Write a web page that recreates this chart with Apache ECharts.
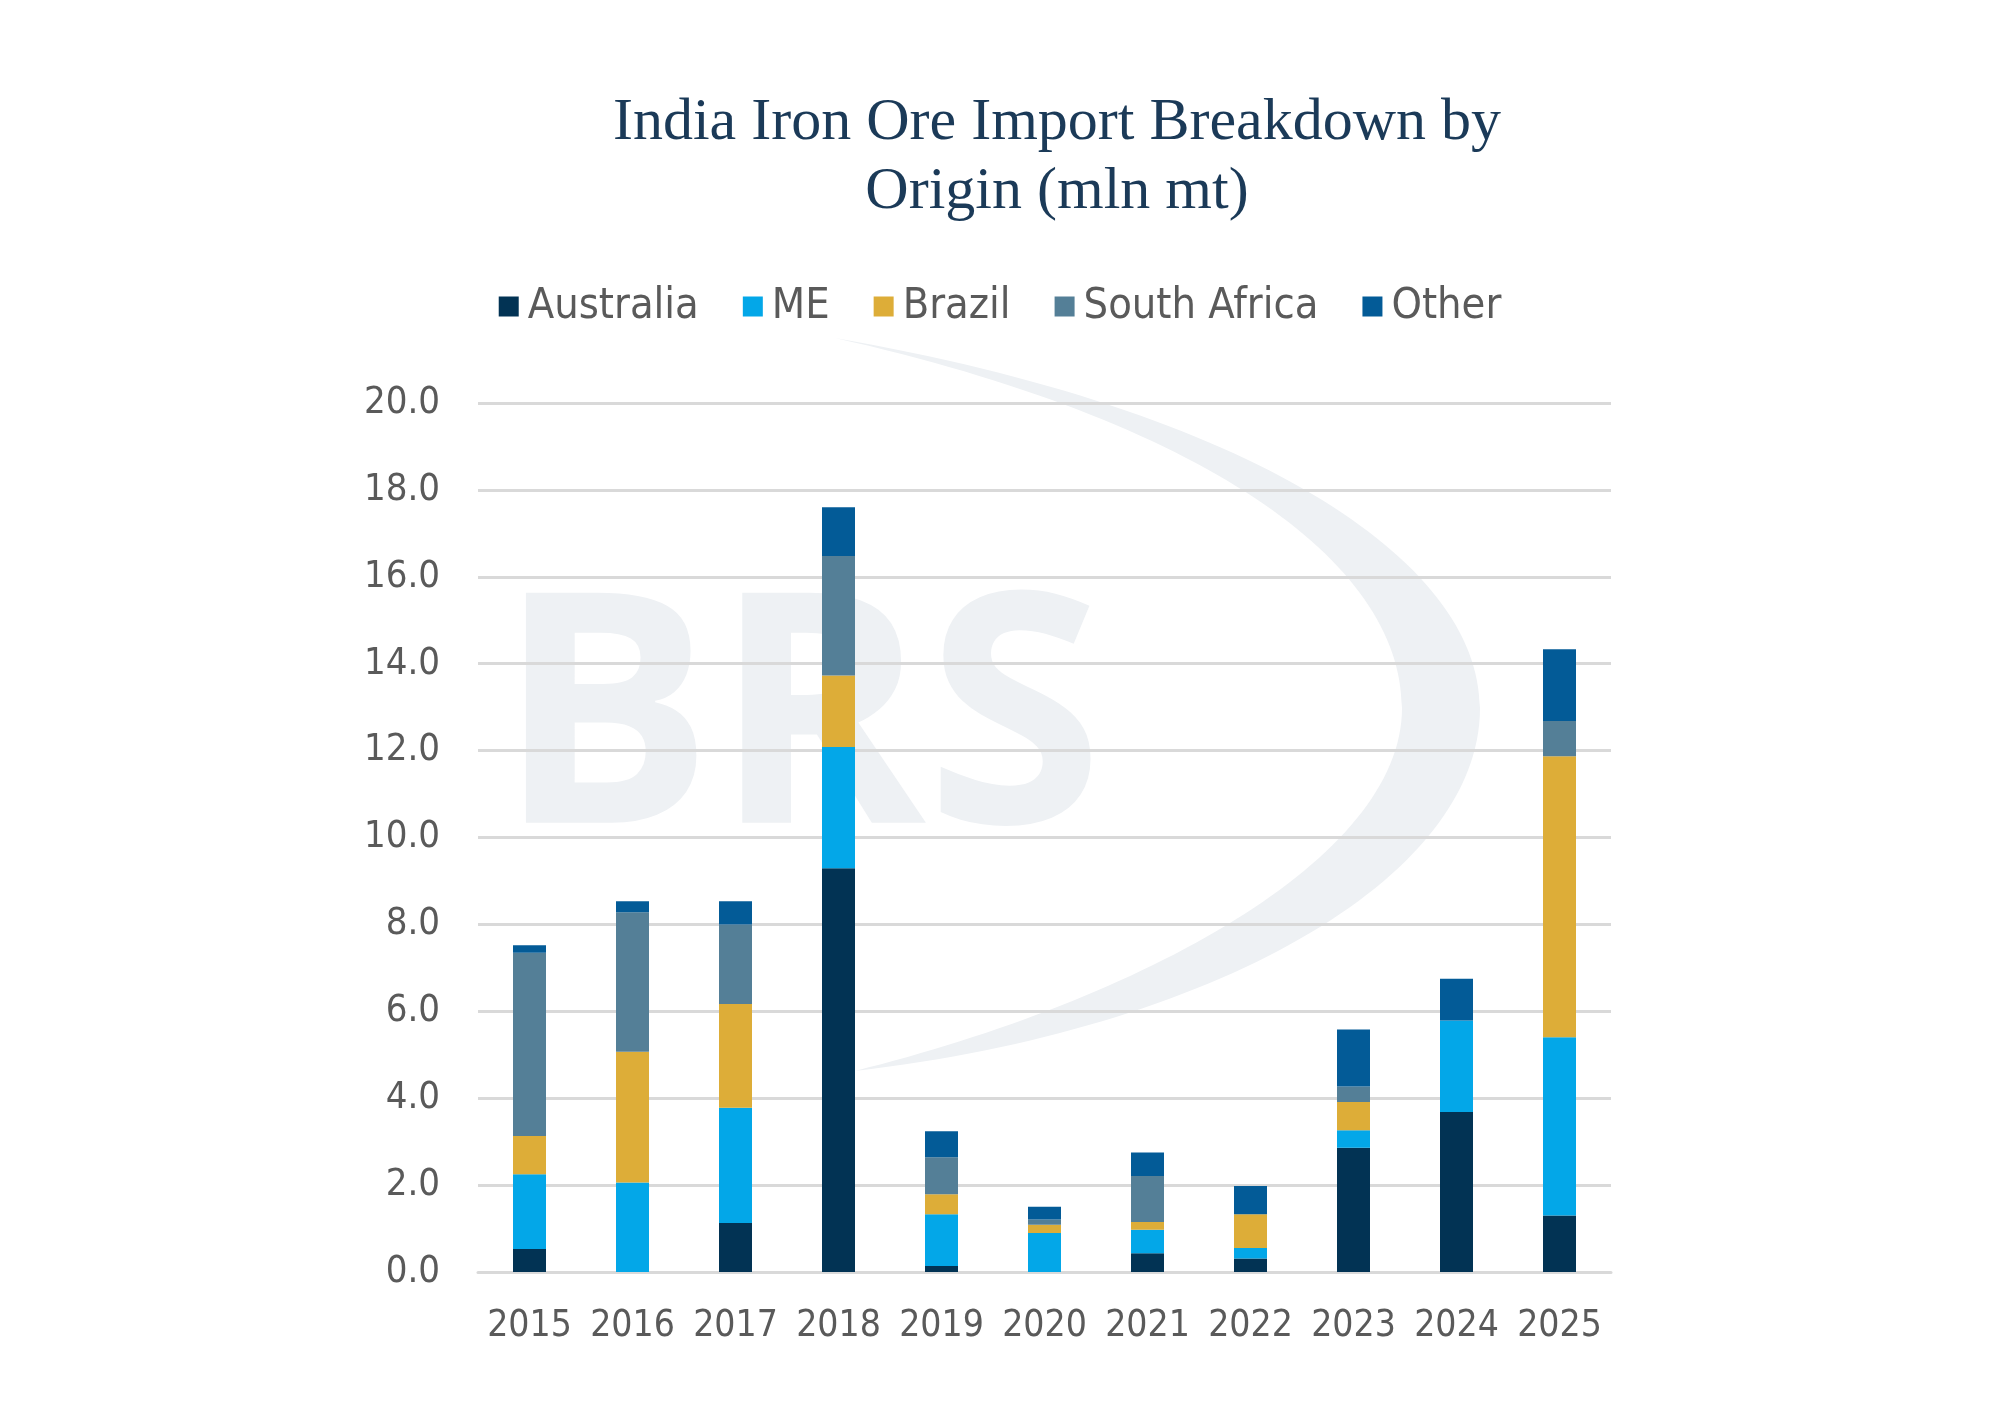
<!DOCTYPE html>
<html>
<head>
<meta charset="utf-8">
<script src="https://cdn.jsdelivr.net/npm/echarts@6/dist/echarts.min.js"></script>
<style>
html,body{margin:0;padding:0;background:#fff;}
#chart{width:2000px;height:1414px;}
</style>
</head>
<body>
<div id="chart"></div>
<script>
const categories = ['2015','2016','2017','2018','2019','2020','2021','2022','2023','2024','2025'];
const australia   = [0.53, 0.00, 1.13, 9.29, 0.14, 0.00, 0.43, 0.31, 2.86, 3.68, 1.30];
const me          = [1.72, 2.06, 2.65, 2.79, 1.19, 0.90, 0.54, 0.24, 0.40, 2.11, 4.10];
const brazil      = [0.88, 3.01, 2.39, 1.65, 0.46, 0.19, 0.18, 0.78, 0.65, 0.00, 6.47];
const southAfrica = [4.22, 3.21, 1.83, 2.75, 0.85, 0.12, 1.06, 0.00, 0.36, 0.00, 0.81];
const other       = [0.17, 0.25, 0.53, 1.12, 0.60, 0.29, 0.54, 0.65, 1.31, 0.96, 1.65];
const seriesNames = ['Australia','ME','Brazil','South Africa','Other'];
const seriesColors = ['#023354','#03A7E8','#DDAD38','#547F97','#035B97'];
const seriesData = [australia, me, brazil, southAfrica, other];

const sansFont = "'DejaVu Sans Condensed','Roboto',sans-serif";

// watermark crescent shape
const Crescent = echarts.graphic.extendShape({
  shape: {},
  buildPath: function (ctx) {
    ctx.moveTo(835, 338);
    ctx.bezierCurveTo(1250, 410, 1480, 560, 1480, 708);
    ctx.bezierCurveTo(1480, 880, 1210, 1030, 855, 1071);
    ctx.bezierCurveTo(1140, 1000, 1402, 860, 1402, 708);
    ctx.bezierCurveTo(1402, 560, 1200, 420, 835, 338);
    ctx.closePath();
  }
});
echarts.graphic.registerShape('crescent', Crescent);

const chart = echarts.init(document.getElementById('chart'), null, {renderer:'canvas'});
chart.setOption({
  backgroundColor: '#ffffff',
  animation: false,
  title: {
    text: 'India Iron Ore Import Breakdown by\nOrigin (mln mt)',
    left: 1052, top: 84, textAlign: 'center',
    textStyle: {
      fontFamily: "'Liberation Serif','DejaVu Serif',serif",
      fontWeight: 'normal', fontSize: 60, lineHeight: 69, color: '#1b3a58'
    }
  },
  graphic: [
    {
      type: 'crescent', silent: true, z: -10,
      shape: {},
      style: { fill: '#eef1f4' }
    },
    {
      type: 'text', silent: true, z: -10, left: 497, top: 570,
      style: {
        text: 'BRS', fill: '#eef1f4',
        font: "bold 322px 'Open Sans','Liberation Sans',sans-serif"
      }
    }
  ],
  legend: {
    data: seriesNames,
    top: 280, left: 'center',
    icon: 'rect', itemWidth: 20, itemHeight: 20, itemGap: 44,
    textStyle: { fontFamily: sansFont, fontSize: 43, color: '#5a5a5a', padding: [0,0,0,4] }
  },
  grid: { left: 478, right: 389, top: 403, bottom: 142, containLabel: false },
  xAxis: {
    type: 'category', data: categories,
    axisLine: { lineStyle: { color: '#d9d9d9', width: 3 } },
    axisTick: { show: false },
    axisLabel: { interval: 0, fontFamily: sansFont, fontSize: 37, color: '#5a5a5a', margin: 36 }
  },
  yAxis: {
    type: 'value', min: 0, max: 20, interval: 2,
    axisLine: { show: false }, axisTick: { show: false },
    splitLine: { lineStyle: { color: '#d9d9d9', width: 3 } },
    axisLabel: {
      fontFamily: sansFont, fontSize: 38, color: '#5a5a5a', margin: 38,
      formatter: v => v.toFixed(1)
    }
  },
  series: seriesNames.map((n, i) => ({
    name: n, type: 'bar', stack: 'total', data: seriesData[i],
    barWidth: 33, itemStyle: { color: seriesColors[i] }
  }))
});
</script>
</body>
</html>
